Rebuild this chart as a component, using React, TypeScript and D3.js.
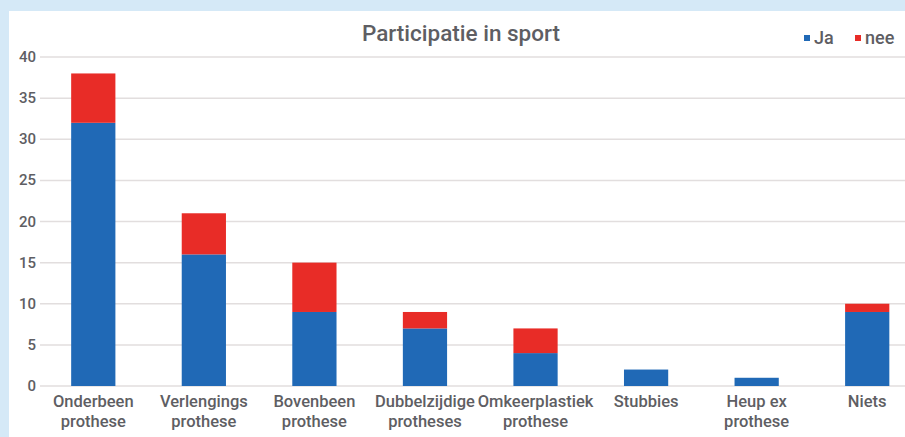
import React from "react";
import * as d3 from "d3";

const categories: string[][] = [
  ["Onderbeen", "prothese"],
  ["Verlengings", "prothese"],
  ["Bovenbeen", "prothese"],
  ["Dubbelzijdige", "protheses"],
  ["Omkeerplastiek", "prothese"],
  ["Stubbies"],
  ["Heup ex", "prothese"],
  ["Niets"],
];
const ja: number[] = [32, 16, 9, 7, 4, 2, 1, 9];
const nee: number[] = [6, 5, 6, 2, 3, 0, 0, 1];
const yTicks: number[] = [0, 5, 10, 15, 20, 25, 30, 35, 40];
const seriesNames = ["Ja", "nee"];
const colors = ["#2069b6", "#e82c27"];

const W = 905;
const H = 437;
const font = "Roboto, 'Noto Sans', sans-serif";
const textColor = "#5e5e63";

export default function App() {
  const x = d3
    .scaleBand<number>()
    .domain(d3.range(categories.length))
    .range([38, 922.5])
    .paddingInner(0.6)
    .paddingOuter(0.3);
  const y = d3.scaleLinear().domain([0, 40]).range([386, 57]);
  const stackData = categories.map((_, i) => ({ i, Ja: ja[i], nee: nee[i] }));
  const stack = d3.stack<any>().keys(seriesNames)(stackData);

  return (
    <div style={{ position: "absolute", left: 0, top: 0 }}>
      <svg width={W} height={H} style={{ display: "block" }}>
        <rect x={0} y={0} width={W} height={H} fill="#d5e9f7" />
        <rect x={9} y={11} width={W - 9} height={H - 11} fill="#ffffff" />
        <text
          x={461}
          y={41}
          textAnchor="middle"
          fontFamily={font}
          fontSize={22.5}
          fontWeight={500}
          fill={textColor}
        >
          Participatie in sport
        </text>
        {yTicks.map((t) => (
          <g key={t}>
            <line
              x1={40}
              x2={W}
              y1={y(t)}
              y2={y(t)}
              stroke="#e2dede"
              strokeWidth={1.5}
            />
            <text
              x={36}
              y={y(t) + 5}
              textAnchor="end"
              fontFamily={font}
              fontSize={15}
              fontWeight={500}
              fill={textColor}
            >
              {t}
            </text>
          </g>
        ))}
        {stack.map((s, si) => (
          <g key={s.key} fill={colors[si]}>
            {s.map((d, i) =>
              d[1] - d[0] > 0 ? (
                <rect
                  key={i}
                  x={x(i)}
                  width={x.bandwidth()}
                  y={y(d[1])}
                  height={y(d[0]) - y(d[1])}
                />
              ) : null
            )}
          </g>
        ))}
        {categories.map((lines, i) => (
          <text
            key={i}
            textAnchor="middle"
            fontFamily={font}
            fontSize={16.5}
            fontWeight={500}
            fill={textColor}
          >
            {lines.map((l, k) => (
              <tspan key={k} x={(x(i) as number) + x.bandwidth() / 2} y={407 + k * 20}>
                {l}
              </tspan>
            ))}
          </text>
        ))}
        {seriesNames.map((n, i) => (
          <g key={n} transform={`translate(${[804, 855][i]},0)`}>
            <rect x={0} y={35} width={6} height={6} fill={colors[i]} />
            <text x={10} y={44} fontFamily={font} fontSize={18} fontWeight={500} fill={textColor}>
              {n}
            </text>
          </g>
        ))}
      </svg>
    </div>
  );
}
